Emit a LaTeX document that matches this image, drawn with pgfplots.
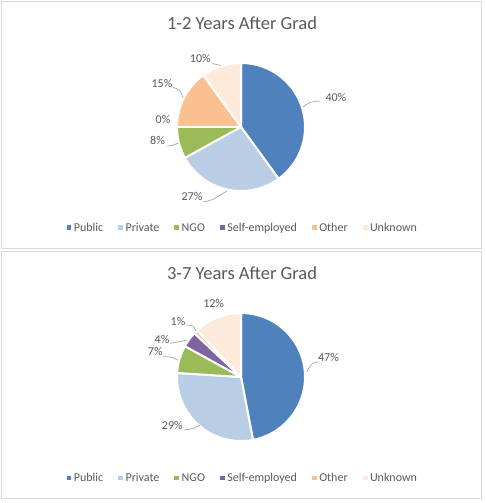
\documentclass[border=0pt]{standalone}
\usepackage{pgfplots}
\pgfplotsset{compat=1.18}
\usepackage{pgfplotstable}
\usepackage{fontspec}
\setmainfont{Carlito}
\definecolor{pc0}{HTML}{4F81BD}
\definecolor{pc1}{HTML}{B9CDE5}
\definecolor{pc2}{HTML}{9BBB59}
\definecolor{pc3}{HTML}{8064A2}
\definecolor{pc4}{HTML}{FAC090}
\definecolor{pc5}{HTML}{FDEADA}
\definecolor{txt}{HTML}{595959}
\definecolor{framec}{HTML}{D9D9D9}
\definecolor{lead}{HTML}{A6A6A6}

\pgfplotstableread{
cat value
Public 40
Private 27
NGO 8
Self-employed 0
Other 15
Unknown 10
}\topdata
\pgfplotstableread{
cat value
Public 47
Private 29
NGO 7
Self-employed 4
Other 1
Unknown 12
}\bottomdata

\newcommand\ttl{\fontsize{18.5bp}{22bp}\selectfont}
\newcommand\lbl{\fontsize{12bp}{14bp}\selectfont}

% pie slices: clockwise from 12 o'clock, radius 64
\newcommand\drawpie[1]{%
  \def\cum{0}%
  \pgfplotsforeachungrouped \i in {0,...,5}{%
    \pgfplotstablegetelem{\i}{value}\of#1%
    \let\val\pgfplotsretval
    \pgfmathsetmacro\cumend{\cum+\val}%
    \pgfmathsetmacro\angA{90-3.6*\cumend}%
    \pgfmathsetmacro\angB{90-3.6*\cum}%
    \ifdim\val pt>0pt
      \edef\temp{\noexpand\addplot[forget plot, fill=pc\i, draw=white, line width=2bp, line join=round, domain=\angA:\angB, samples=80] ({64*cos(x)},{64*sin(x)}) -- (axis cs:0,0) -- cycle;}%
      \temp
    \fi
    \let\cum\cumend
  }%
}

\pgfplotsset{piepanel/.style={
  scale only axis, width=480bp, height=246.6bp,
  xmin=-239.3, xmax=240.7, ymin=-121.3, ymax=125.3,
  xtick=\empty, ytick=\empty,
  axis line style={draw=framec, line width=0.9bp},
  clip=false, anchor=south west,
  legend columns=6,
  legend style={draw=none, fill=none, at={(0.5027,0.0823)}, anchor=center,
    font=\lbl, text=txt, nodes={inner sep=2.5bp},
    /tikz/every even column/.append style={column sep=12.5bp}},
  legend image code/.code={\fill[##1] (0bp,-2.3bp) rectangle (4.8bp,2.5bp);},
}}

\begin{document}
\begin{tikzpicture}
\path[use as bounding box] (0,0) rectangle (486bp,503bp);

% ---------- top panel ----------
\begin{axis}[piepanel, at={(1.7bp,254.7bp)}]
\drawpie{\topdata}
\addlegendimage{fill=pc0, draw=none}\addlegendentry{Public}
\addlegendimage{fill=pc1, draw=none}\addlegendentry{Private}
\addlegendimage{fill=pc2, draw=none}\addlegendentry{NGO}
\addlegendimage{fill=pc3, draw=none}\addlegendentry{Self-employed}
\addlegendimage{fill=pc4, draw=none}\addlegendentry{Other}
\addlegendimage{fill=pc5, draw=none}\addlegendentry{Unknown}
\node[font=\ttl, text=txt, anchor=base] at (1,97.7) {1-2 Years After Grad};
% leader lines
\draw[lead, line width=0.7bp, rounded corners=3bp] (62,20) -- (69,25) -- (79,26);
\draw[lead, line width=0.7bp, rounded corners=3bp] (-38,-75) -- (-29,-73) -- (-14,-64);
\draw[lead, line width=0.7bp, rounded corners=3bp] (-74,-19) -- (-68,-18.5) -- (-63,-16);
\draw[lead, line width=0.7bp, rounded corners=3bp] (-69,40) -- (-61,37) -- (-58,29);
\draw[lead, line width=0.7bp, rounded corners=3bp] (-29,63.5) -- (-20,61.5);
% data labels
\node[font=\lbl, text=txt, anchor=base west] at (81,25.3) {40\%};
\node[font=\lbl, text=txt, anchor=base] at (-49,-74) {27\%};
\node[font=\lbl, text=txt, anchor=base] at (-83.5,-18) {8\%};
\node[font=\lbl, text=txt, anchor=base] at (-78,3.7) {0\%};
\node[font=\lbl, text=txt, anchor=base] at (-79,39.7) {15\%};
\node[font=\lbl, text=txt, anchor=base] at (-40.7,64.3) {10\%};
\end{axis}

% ---------- bottom panel ----------
\begin{axis}[piepanel, at={(1.7bp,4.7bp)}]
\drawpie{\bottomdata}
\addlegendimage{fill=pc0, draw=none}\addlegendentry{Public}
\addlegendimage{fill=pc1, draw=none}\addlegendentry{Private}
\addlegendimage{fill=pc2, draw=none}\addlegendentry{NGO}
\addlegendimage{fill=pc3, draw=none}\addlegendentry{Self-employed}
\addlegendimage{fill=pc4, draw=none}\addlegendentry{Other}
\addlegendimage{fill=pc5, draw=none}\addlegendentry{Unknown}
\node[font=\ttl, text=txt, anchor=base] at (1,97.7) {3-7 Years After Grad};
% leader lines
\draw[lead, line width=0.7bp, rounded corners=3bp] (65.7,5.3) -- (70.7,13.7) -- (77.3,15.3);
\draw[lead, line width=0.7bp, rounded corners=3bp] (-57,-53) -- (-47,-51.5) -- (-41,-48);
\draw[lead, line width=0.7bp, rounded corners=3bp] (-77.7,20.3) -- (-69.3,20) -- (-63.3,17);
\draw[lead, line width=0.7bp, rounded corners=3bp] (-71,33.7) -- (-61,35.3) -- (-54.3,37);
\draw[lead, line width=0.7bp, rounded corners=3bp] (-54.3,52) -- (-47.7,51.5) -- (-45,46);
% data labels
\node[font=\lbl, text=txt, anchor=base] at (87.5,15) {47\%};
\node[font=\lbl, text=txt, anchor=base] at (-68.7,-52.3) {29\%};
\node[font=\lbl, text=txt, anchor=base] at (-85.7,21) {7\%};
\node[font=\lbl, text=txt, anchor=base] at (-79,33.7) {4\%};
\node[font=\lbl, text=txt, anchor=base] at (-63,51) {1\%};
\node[font=\lbl, text=txt, anchor=base] at (-27.3,69.3) {12\%};
\end{axis}
\end{tikzpicture}
\end{document}
